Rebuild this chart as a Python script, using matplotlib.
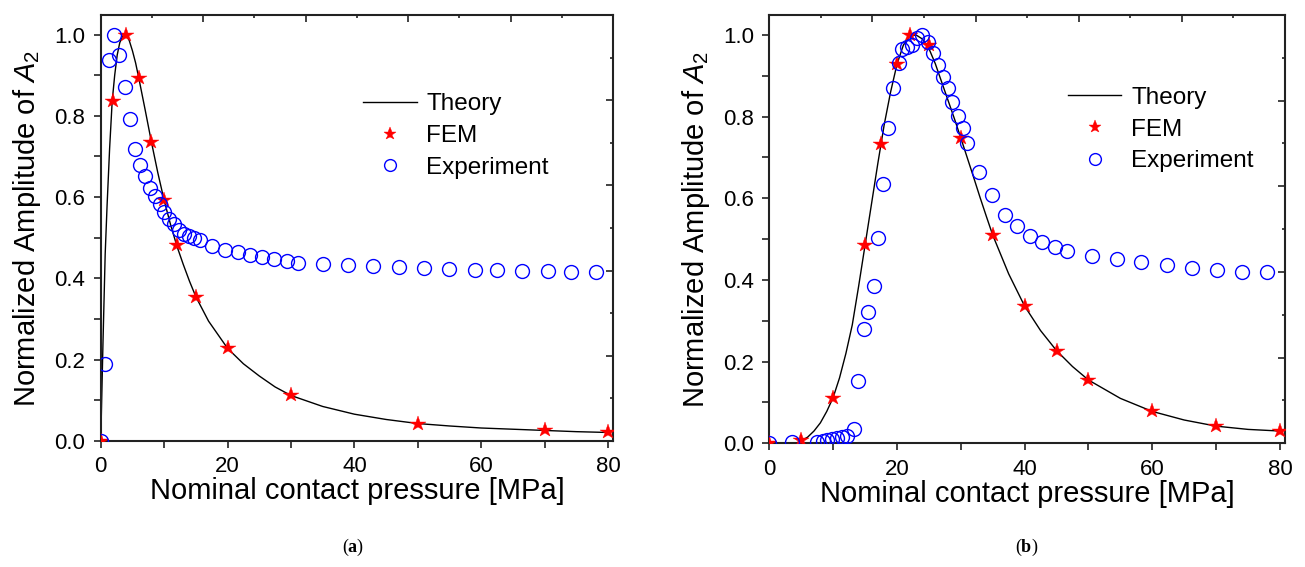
import numpy as np
import matplotlib
matplotlib.use("Agg")
import matplotlib.pyplot as plt

plt.rcParams['font.family'] = ['Liberation Sans', 'DejaVu Sans']
plt.rcParams['mathtext.fontset'] = 'custom'
plt.rcParams['mathtext.rm'] = 'Liberation Sans'
plt.rcParams['mathtext.it'] = 'Liberation Sans:italic'
plt.rcParams['mathtext.bf'] = 'Liberation Serif:bold'

# ---------------- Panel (a) data ----------------
a_theory_x = [0, 0.35, 0.7, 1.0, 1.4, 1.8, 2.2, 2.6, 3.0, 3.5, 4.0, 4.5, 5.0, 5.5, 6.0, 7.0, 8.0, 9.0,
              10, 11, 12, 13, 14, 15, 17, 20, 22.5, 25, 27.5, 30, 35, 40, 45, 50, 55, 60, 65, 70, 75, 80]
a_theory_y = [0, 0.24, 0.46, 0.58, 0.72, 0.835, 0.90, 0.95, 0.98, 0.997, 1.0, 0.985, 0.96, 0.93, 0.893,
              0.815, 0.735, 0.66, 0.592, 0.533, 0.48, 0.435, 0.393, 0.355, 0.295, 0.228, 0.19, 0.16,
              0.133, 0.112, 0.085, 0.066, 0.053, 0.043, 0.037, 0.032, 0.029, 0.026, 0.023, 0.021]
a_fem_x = [0, 2, 4, 6, 8, 10, 12, 15, 20, 30, 50, 70, 80]
a_fem_y = [0, 0.837, 1.0, 0.893, 0.735, 0.593, 0.481, 0.355, 0.228, 0.113, 0.043, 0.026, 0.022]
a_exp_x = [0, 0.7, 1.3, 2.1, 2.9, 3.8, 4.6, 5.4, 6.2, 7.0, 7.7, 8.5, 9.3, 10.0, 10.8, 11.6, 12.4,
           13.1, 13.9, 14.7, 15.6, 17.6, 19.6, 21.6, 23.5, 25.5, 27.4, 29.4, 31.1, 35, 39, 43, 47,
           51, 55, 59, 62.5, 66.5, 70.5, 74.2, 78.1]
a_exp_y = [0, 0.189, 0.937, 1.0, 0.949, 0.870, 0.791, 0.719, 0.680, 0.652, 0.623, 0.602, 0.582,
           0.563, 0.547, 0.533, 0.520, 0.510, 0.504, 0.499, 0.494, 0.480, 0.471, 0.465, 0.457,
           0.452, 0.449, 0.444, 0.439, 0.435, 0.433, 0.430, 0.427, 0.425, 0.423, 0.421, 0.420,
           0.419, 0.418, 0.416, 0.415]

# ---------------- Panel (b) data ----------------
b_theory_x = [4.5, 5, 6, 7, 8, 9, 10, 11, 12, 13, 14, 15, 16, 17, 18, 19, 20, 21, 22, 23, 24, 25,
              26, 27, 28, 29, 30, 31, 32, 33, 34, 35, 37.5, 40, 42.5, 45, 47.5, 50, 55, 60, 65, 70, 75, 80]
b_theory_y = [0.0, 0.006, 0.015, 0.03, 0.05, 0.078, 0.112, 0.16, 0.22, 0.29, 0.385, 0.485, 0.585,
              0.685, 0.78, 0.86, 0.928, 0.975, 0.997, 1.0, 0.99, 0.967, 0.93, 0.885, 0.84, 0.795,
              0.748, 0.70, 0.652, 0.603, 0.556, 0.51, 0.415, 0.336, 0.276, 0.227, 0.188, 0.155,
              0.11, 0.078, 0.057, 0.042, 0.034, 0.030]
b_fem_x = [0, 5, 10, 15, 17.5, 20, 22, 25, 30, 35, 40, 45, 50, 60, 70, 80]
b_fem_y = [0, 0.008, 0.112, 0.485, 0.734, 0.928, 1.0, 0.975, 0.748, 0.510, 0.336, 0.227, 0.155,
           0.078, 0.042, 0.030]
b_exp_x = [0, 3.6, 7.5, 8.4, 9.1, 9.8, 10.6, 11.4, 12.2, 13.2, 13.9, 14.8, 15.5, 16.4, 17.0, 17.8,
           18.6, 19.4, 20.3, 20.8, 21.5, 22.3, 23.1, 24.0, 24.8, 25.6, 26.5, 27.2, 28.0, 28.7,
           29.6, 30.3, 31.0, 32.9, 34.9, 36.9, 38.8, 40.8, 42.8, 44.75, 46.7, 50.6, 54.4, 58.3,
           62.25, 66.2, 70.1, 74.0, 77.9]
b_exp_y = [0, 0.004, 0.003, 0.005, 0.007, 0.010, 0.013, 0.015, 0.018, 0.034, 0.153, 0.279, 0.322,
           0.384, 0.502, 0.635, 0.771, 0.869, 0.932, 0.965, 0.971, 0.975, 0.992, 1.0, 0.984, 0.957,
           0.926, 0.896, 0.869, 0.837, 0.802, 0.771, 0.736, 0.665, 0.609, 0.560, 0.531, 0.508,
           0.492, 0.480, 0.472, 0.459, 0.451, 0.445, 0.437, 0.429, 0.424, 0.420, 0.419]

x_ticks = [0, 10, 20, 30, 40, 50, 60, 70, 80]
x_labels = ['0', '', '20', '', '40', '', '60', '', '80']
y_ticks = [0.0, 0.1, 0.2, 0.3, 0.4, 0.5, 0.6, 0.7, 0.8, 0.9, 1.0]
y_labels = ['0.0', '', '0.2', '', '0.4', '', '0.6', '', '0.8', '', '1.0']
legend_labels = ['Theory', 'FEM', 'Experiment']
panel_labels = ['a', 'b']

fig = plt.figure(figsize=(13.05, 5.67), dpi=100)
ax_a = fig.add_axes([0.0772, 0.2222, 0.3926, 0.7513])
ax_b = fig.add_axes([0.5895, 0.2182, 0.3952, 0.7554])

TICK_FS = 16
LABEL_FS = 21
LEG_FS = 17.5


def draw(ax, tx, ty, fx, fy, ex, ey, ylim_top, leg_anchor, ylabelpad):
    ax.plot(tx, ty, color='black', lw=1.0, label=legend_labels[0], zorder=2)
    ax.plot(fx, fy, ls='none', marker='*', color='red', markersize=11.5,
            markeredgewidth=0.3, label=legend_labels[1], zorder=3)
    ax.plot(ex, ey, ls='none', marker='o', markerfacecolor='none', markeredgecolor='blue',
            markersize=10, markeredgewidth=1.0, label=legend_labels[2], zorder=4)
    ax.set_xlim(0, 80.8)
    ax.set_ylim(0, ylim_top)
    ax.set_xticks(x_ticks)
    ax.set_xticklabels(x_labels)
    ax.set_yticks(y_ticks)
    ax.set_yticklabels(y_labels)
    ax.tick_params(direction='out', length=5, width=1.2, labelsize=TICK_FS, pad=6,
                   color='#222222')
    for s in ax.spines.values():
        s.set_linewidth(1.5)
        s.set_color('#222222')
    ax.set_xlabel('Nominal contact pressure [MPa]', fontsize=LABEL_FS, labelpad=0)
    ax.set_ylabel(r'Normalized Amplitude of $\mathit{A}_{2}$', fontsize=LABEL_FS,
                  labelpad=ylabelpad)
    # opposite (top / right) axis ticks, inward
    axt = ax.twiny()
    axt.set_xlim(0, 1)
    axt.set_xticks([0.2, 0.4, 0.6, 0.8])
    axt.set_xticks([0.1, 0.3, 0.5, 0.7, 0.9], minor=True)
    axt.tick_params(which='both', direction='in', labeltop=False, width=1.2, color='#222222')
    axt.tick_params(which='major', length=5)
    axt.tick_params(which='minor', length=2.5)
    axr = ax.twinx()
    axr.set_ylim(0, 1)
    axr.set_yticks([0.2, 0.4, 0.6, 0.8])
    axr.set_yticks([0.1, 0.3, 0.5, 0.7, 0.9], minor=True)
    axr.tick_params(which='both', direction='in', labelright=False, width=1.2, color='#222222')
    axr.tick_params(which='major', length=5)
    axr.tick_params(which='minor', length=2.5)
    for a2 in (axt, axr):
        for s in a2.spines.values():
            s.set_visible(False)
    leg = ax.legend(loc='upper left', bbox_to_anchor=leg_anchor, frameon=False,
                    fontsize=LEG_FS, handlelength=2.2, handletextpad=0.4,
                    labelspacing=0.4, borderpad=0, borderaxespad=0, markerscale=0.85)
    return leg


draw(ax_a, a_theory_x, a_theory_y, a_fem_x, a_fem_y, a_exp_x, a_exp_y, 1.048, (0.512, 0.816), 8)
draw(ax_b, b_theory_x, b_theory_y, b_fem_x, b_fem_y, b_exp_x, b_exp_y, 1.049, (0.579, 0.832), 8)

fig.text(0.2705, 0.034, r'($\mathbf{%s}$)' % panel_labels[0], ha='center', va='center',
         fontsize=13, family='Liberation Serif')
fig.text(0.7865, 0.034, r'($\mathbf{%s}$)' % panel_labels[1], ha='center', va='center',
         fontsize=13, family='Liberation Serif')

fig.savefig('out.png', dpi=100)
